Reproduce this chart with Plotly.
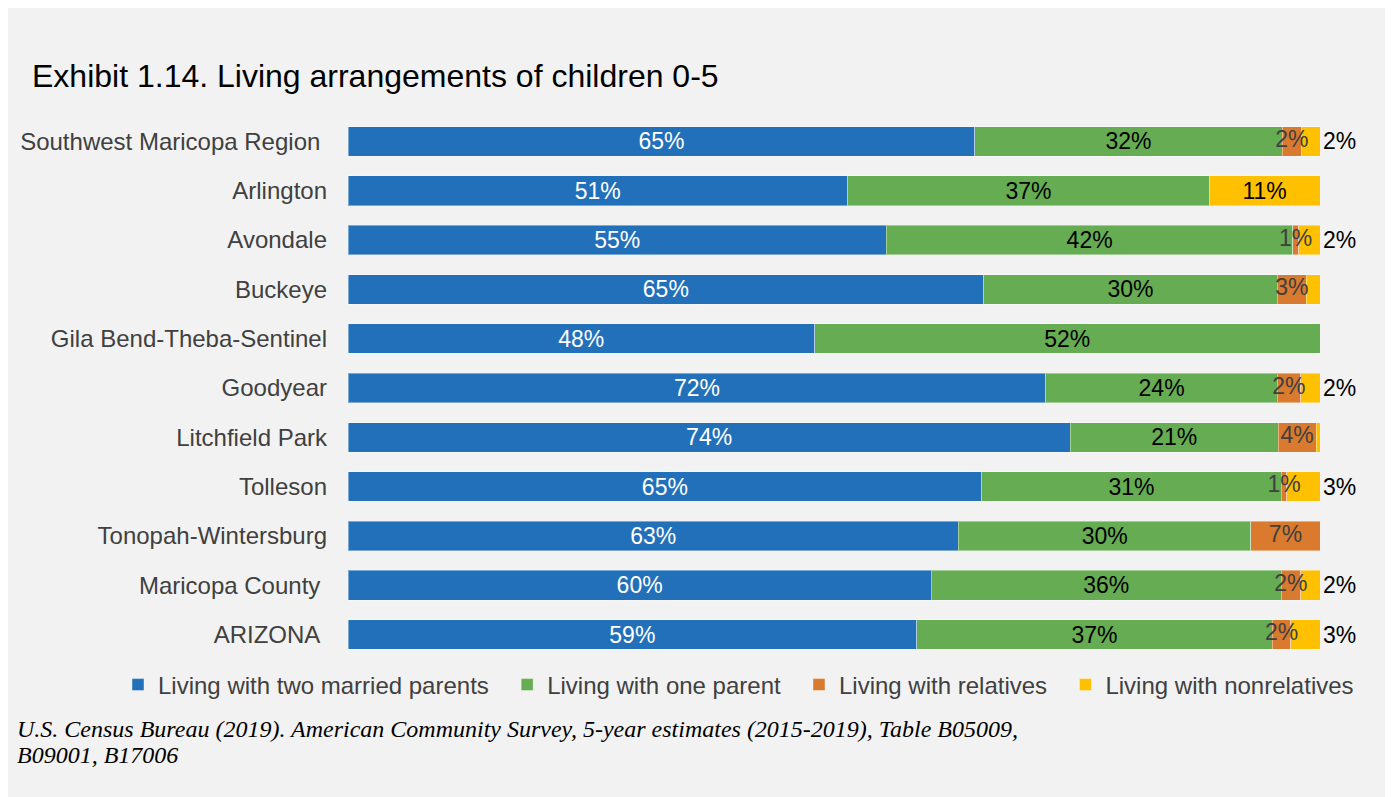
import plotly.graph_objects as go

categories = [
    "Southwest Maricopa Region\u00a0", "Arlington", "Avondale", "Buckeye",
    "Gila Bend-Theba-Sentinel", "Goodyear", "Litchfield Park", "Tolleson",
    "Tonopah-Wintersburg", "Maricopa County\u00a0", "ARIZONA\u00a0",
]
two_married_parents = [64.5, 51.4, 55.4, 65.4, 48.0, 71.8, 74.3, 65.2, 62.8, 60.0, 58.5]
one_parent =          [31.6, 37.2, 41.8, 30.2, 52.0, 23.8, 21.4, 30.8, 30.1, 36.0, 36.6]
relatives =           [2.0,  0.0,  0.6,  3.0,  0.0,  2.4,  3.9,  0.6,  7.1,  2.0,  1.9]
nonrelatives =        [1.9,  11.4, 2.2,  1.4,  0.0,  2.0,  0.4,  3.4,  0.0,  2.0,  3.0]

series_names = ["Living with two married parents", "Living with one parent",
                "Living with relatives", "Living with nonrelatives"]
colors = ["#2270BA", "#66AC52", "#D97A2E", "#FFC000"]
text_colors = ["#FFFFFF", "#000000", "#404040", "#000000"]
FONT = "Liberation Sans, Arial"


def label(v):
    return f"{int(v + 0.5)}%" if v >= 0.5 else ""


# page is offset by the 8px body margin
W, H = 1385, 789
L, R, T, B = 340, 73, 106, 135
plot_w = W - L - R
plot_h = H - T - B


def px_x(px):
    return (px - L) / plot_w


def px_y(py):
    return (H - B - py) / plot_h


fig = go.Figure()
all_series = [two_married_parents, one_parent, relatives, nonrelatives]
for i, (name, vals) in enumerate(zip(series_names, all_series)):
    if i == 2:
        texts = [""] * len(vals)  # drawn on top below
    else:
        texts = [label(v) for v in vals]
    if i == 3:
        positions = ["inside" if v >= 5 else "outside" for v in vals]
    else:
        positions = ["inside"] * len(vals)
    legend_name = name + ("\u00a0\u00a0" if i < 3 else "")
    fig.add_trace(go.Bar(
        y=categories, x=vals, name=legend_name, orientation="h",
        marker=dict(color=colors[i], line=dict(color="rgba(255,255,255,0.4)", width=1)),
        text=texts, textposition=positions, textangle=0,
        insidetextanchor="middle", constraintext="none", cliponaxis=False,
        insidetextfont=dict(color=text_colors[i], size=23, family=FONT),
        outsidetextfont=dict(color="#000000", size=23, family=FONT),
        hoverinfo="skip",
    ))

# labels for the thin "relatives" segments, drawn above the neighbouring segments
rel_mid = [a + b + c / 2 for a, b, c in zip(two_married_parents, one_parent, relatives)]
fig.add_trace(go.Scatter(
    x=rel_mid, y=categories, mode="text", text=[label(v) for v in relatives],
    textposition="middle center", showlegend=False, hoverinfo="skip", cliponaxis=False,
    textfont=dict(color="#404040", size=23, family=FONT),
))

fig.add_annotation(
    xref="paper", yref="paper", x=px_x(22), y=px_y(68), xanchor="left", yanchor="middle",
    text="Exhibit 1.14. Living arrangements of children 0-5", showarrow=False,
    font=dict(size=32, color="#000000", family=FONT),
)
fig.add_annotation(
    xref="paper", yref="paper", x=px_x(7), y=px_y(721), xanchor="left", yanchor="middle",
    text="<i>U.S. Census Bureau (2019). American Community Survey, 5-year estimates (2015-2019), Table B05009,</i>",
    showarrow=False, align="left",
    font=dict(size=24, color="#000000", family="Liberation Serif, Times New Roman"),
)
fig.add_annotation(
    xref="paper", yref="paper", x=px_x(7), y=px_y(747), xanchor="left", yanchor="middle",
    text="<i>B09001, B17006</i>",
    showarrow=False, align="left",
    font=dict(size=24, color="#000000", family="Liberation Serif, Times New Roman"),
)

fig.update_layout(
    width=W, height=H,
    margin=dict(l=L, r=R, t=T, b=B, autoexpand=False),
    barmode="stack", bargap=0.4,
    paper_bgcolor="#F2F2F2", plot_bgcolor="rgba(0,0,0,0)",
    font=dict(family=FONT, color="#404040"),
    showlegend=True,
    legend=dict(orientation="h", x=px_x(110), xanchor="left", y=px_y(677), yanchor="middle",
                font=dict(size=24, color="#404040"), bgcolor="rgba(0,0,0,0)",
                traceorder="normal", itemwidth=30),
    xaxis=dict(range=[0, 100], showticklabels=False, showgrid=False, zeroline=False,
               showline=False, fixedrange=True),
    yaxis=dict(autorange="reversed", showgrid=False, zeroline=False, showline=False,
               ticks="", ticklabelstandoff=20,
               tickfont=dict(size=24, color="#404040", family=FONT)),
)

fig.write_html("out.html")
